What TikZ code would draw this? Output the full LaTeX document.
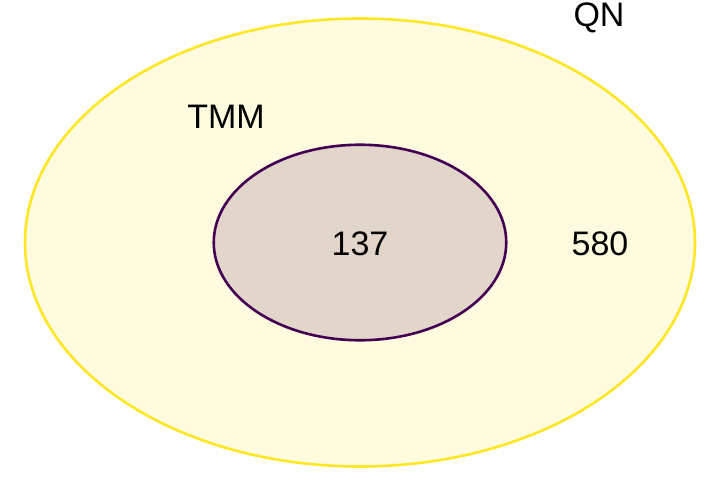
\documentclass[tikz,border=0pt]{standalone}
\usepackage{fontspec}
\setmainfont{Liberation Sans}
\usepackage{tikz}
\usetikzlibrary{shapes}
\definecolor{vennyellow}{HTML}{FDE725}
\definecolor{vennpurple}{HTML}{440154}
\tikzstyle{outerset} = [ellipse, draw=vennyellow, line width=2.6pt, fill=vennyellow,
    fill opacity=0.15, draw opacity=1, inner sep=0pt, minimum width=670pt, minimum height=448pt]
\tikzstyle{innerset} = [ellipse, draw=vennpurple, line width=2.6pt, fill=vennpurple,
    fill opacity=0.15, draw opacity=1, inner sep=0pt, minimum width=292.5pt, minimum height=195.5pt]
\tikzstyle{count} = [anchor=base, inner sep=0pt, font=\fontsize{34}{40}\selectfont]
\tikzstyle{setname} = [anchor=base, inner sep=0pt, font=\fontsize{34}{40}\selectfont]

\begin{document}
\begin{tikzpicture}[x=1pt, y=1pt]
   \fill [white] (0,0) rectangle (720,480);
   \useasboundingbox (0,0) rectangle (720,480);
   \node [outerset] (qn_set) at (360,237.5) {};
   \node [innerset] (tmm_set) at (360,237.5) {};
   \node [setname] (qn_label) at (599,453) {QN};
   \node [setname] (tmm_label) at (226,351) {TMM};
   \node [count] (both_count) at (360,225) {137};
   \node [count] (qn_count) at (600,225) {580};
\end{tikzpicture}
\end{document}
